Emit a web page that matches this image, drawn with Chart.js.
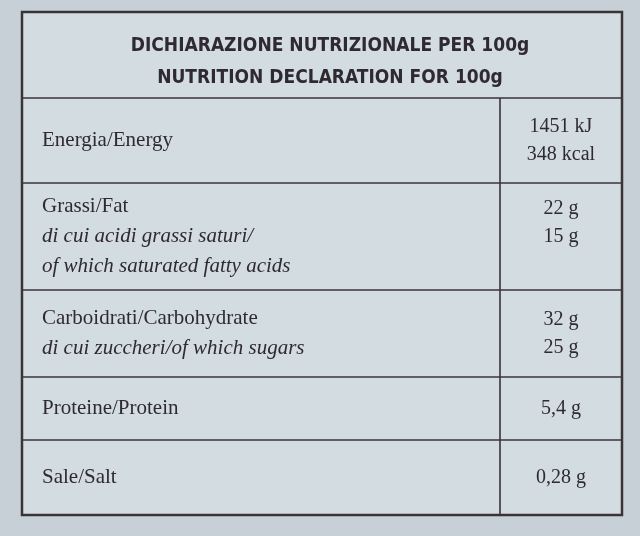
<!DOCTYPE html>
<html><head><meta charset="utf-8">
<script src="https://cdn.jsdelivr.net/npm/chart.js@4/dist/chart.umd.min.js"></script>
<style>html,body{margin:0;padding:0;background:#c6d0d6;}#c{display:block}</style>
</head><body>
<div style="width:640px;height:536px"><canvas id="c"></canvas></div>
<script>
const titleLines = ["DICHIARAZIONE NUTRIZIONALE PER 100g", "NUTRITION DECLARATION FOR 100g"];
const rowLabels = [
  [["Energia/Energy", false]],
  [["Grassi/Fat", false], ["di cui acidi grassi saturi/", true], ["of which saturated fatty acids", true]],
  [["Carboidrati/Carbohydrate", false], ["di cui zuccheri/of which sugars", true]],
  [["Proteine/Protein", false]],
  [["Sale/Salt", false]]
];
const rowValues = [["1451 kJ", "348 kcal"], ["22 g", "15 g"], ["32 g", "25 g"], ["5,4 g"], ["0,28 g"]];
const rowBounds = [98, 183, 290, 377, 440, 515];

const tablePlugin = {
  id: 'table',
  afterDraw(chart) {
    const ctx = chart.ctx;
    const L = 22, R = 622, T = 12, B = 515, D = 500;
    ctx.save();
    ctx.fillStyle = '#d3dce1';
    ctx.fillRect(L, T, R - L, B - T);
    ctx.strokeStyle = '#3a3436';
    ctx.lineWidth = 2.5;
    ctx.strokeRect(L, T, R - L, B - T);
    ctx.lineWidth = 1.6;
    rowBounds.slice(0, -1).forEach(y => { ctx.beginPath(); ctx.moveTo(L, y); ctx.lineTo(R, y); ctx.stroke(); });
    ctx.beginPath(); ctx.moveTo(D, rowBounds[0]); ctx.lineTo(D, B); ctx.stroke();
    ctx.fillStyle = '#2e2a30';
    ctx.textAlign = 'center'; ctx.textBaseline = 'middle';
    ctx.font = 'bold 19px "Liberation Sans Narrow", "DejaVu Sans Condensed", sans-serif';
    titleLines.forEach((t, i) => ctx.fillText(t, 330, 46 + i * 32));
    rowLabels.forEach((lines, r) => {
      const y0 = rowBounds[r], y1 = rowBounds[r + 1], mid = (y0 + y1) / 2;
      const lh = 30, start = mid - (lines.length - 1) * lh / 2;
      ctx.textAlign = 'left';
      lines.forEach(([t, it], i) => {
        ctx.font = (it ? 'italic ' : '') + '21px "Liberation Serif", serif';
        ctx.fillText(t, 42, start + i * lh);
      });
      const vals = rowValues[r];
      const vh = 28;
      const vs = (r === 1 ? mid - 14 : mid) - (vals.length - 1) * vh / 2;
      ctx.textAlign = 'center';
      ctx.font = '20px "Liberation Serif", serif';
      vals.forEach((v, i) => ctx.fillText(v, 561, vs + i * vh));
    });
    ctx.restore();
  }
};

new Chart(document.getElementById('c'), {
  type: 'bar',
  data: { labels: [], datasets: [] },
  options: {
    responsive: true, maintainAspectRatio: false, animation: false,
    plugins: { legend: { display: false }, tooltip: { enabled: false } },
    scales: { x: { display: false }, y: { display: false } }
  },
  plugins: [tablePlugin]
});
</script>
</body></html>
